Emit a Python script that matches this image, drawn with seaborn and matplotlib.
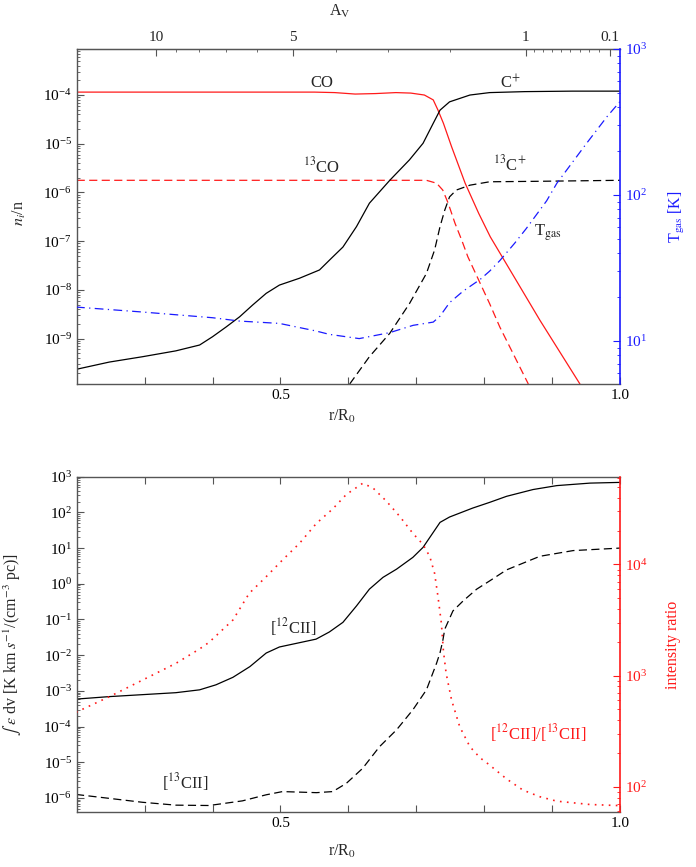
import numpy as np
import pandas as pd
import matplotlib
matplotlib.use("Agg")
import matplotlib.pyplot as plt
import matplotlib.ticker as mticker
import seaborn as sns

# ---------------- data (log10 values) ----------------
r_co = [0.20, 0.40, 0.55, 0.58, 0.61, 0.64, 0.67, 0.692, 0.712, 0.725, 0.732,
        0.740, 0.752, 0.772, 0.792, 0.809, 0.85, 0.882, 0.941]
co_log = [-3.94, -3.94, -3.94, -3.95, -3.98, -3.97, -3.95, -3.96, -4.00, -4.10, -4.31,
          -4.58, -5.06, -5.81, -6.43, -6.91, -7.87, -8.62, -9.93]

r_13co = [0.20, 0.70, 0.715, 0.730, 0.739, 0.747, 0.757, 0.767, 0.776, 0.808, 0.823, 0.865]
co13_log = [-5.75, -5.75, -5.75, -5.81, -5.95, -6.22, -6.63, -6.98, -7.32, -8.28, -8.76, -9.93]

r_cp = [0.199, 0.248, 0.297, 0.346, 0.381, 0.400, 0.420, 0.440, 0.459, 0.479, 0.4985,
        0.528, 0.5575, 0.575, 0.592, 0.612, 0.631, 0.661, 0.690, 0.710, 0.725, 0.735,
        0.749, 0.779, 0.808, 0.86, 0.93, 1.0]
cp_log = [-9.63, -9.48, -9.37, -9.25, -9.13, -8.96, -8.76, -8.55, -8.31, -8.07, -7.90,
          -7.76, -7.59, -7.35, -7.12, -6.70, -6.22, -5.75, -5.33, -4.99, -4.58, -4.31,
          -4.14, -4.00, -3.95, -3.93, -3.92, -3.92]

r_13cp = [0.602, 0.631, 0.661, 0.690, 0.715, 0.727, 0.735, 0.742, 0.749, 0.759, 0.779,
          0.808, 0.882, 1.0]
cp13_log = [-9.93, -9.37, -8.89, -8.28, -7.66, -7.18, -6.70, -6.36, -6.09, -5.95, -5.85,
            -5.78, -5.77, -5.75]

r_t = [0.199, 0.297, 0.40, 0.44, 0.4985, 0.5525, 0.572, 0.616, 0.661, 0.6955, 0.725,
       0.735, 0.749, 0.769, 0.794, 0.808, 0.823, 0.845, 0.862, 0.892, 0.907, 0.951, 0.981, 1.0]
tgas_log = [1.232, 1.198, 1.159, 1.136, 1.120, 1.068, 1.045, 1.016, 1.057, 1.107, 1.129,
            1.170, 1.262, 1.341, 1.421, 1.478, 1.550, 1.670, 1.770, 1.960, 2.080, 2.355,
            2.537, 2.640]

r_c12 = [0.199, 0.248, 0.346, 0.381, 0.405, 0.430, 0.455, 0.479, 0.4985, 0.528, 0.5525,
         0.572, 0.592, 0.612, 0.631, 0.651, 0.671, 0.695, 0.710, 0.725, 0.735, 0.749,
         0.783, 0.808, 0.833, 0.872, 0.907, 0.956, 1.0]
c12_log = [-3.23, -3.16, -3.05, -2.97, -2.83, -2.62, -2.32, -1.94, -1.77, -1.65, -1.55,
           -1.35, -1.08, -0.62, -0.15, 0.18, 0.41, 0.74, 1.02, 1.44, 1.72, 1.87,
           2.12, 2.28, 2.45, 2.64, 2.75, 2.82, 2.84]

r_c13 = [0.199, 0.248, 0.297, 0.346, 0.395, 0.444, 0.479, 0.503, 0.553, 0.577, 0.597,
         0.621, 0.646, 0.671, 0.695, 0.715, 0.730, 0.735, 0.739, 0.742, 0.754, 0.769,
         0.789, 0.808, 0.833, 0.882, 0.931, 1.0]
c13_log = [-5.90, -6.01, -6.12, -6.20, -6.21, -6.08, -5.91, -5.82, -5.85, -5.82, -5.59,
           -5.17, -4.56, -4.09, -3.53, -2.97, -2.22, -1.93, -1.60, -1.27, -0.76, -0.48,
           -0.15, 0.08, 0.39, 0.77, 0.93, 1.00]

r_ratio = [0.199, 0.248, 0.297, 0.346, 0.381, 0.395, 0.430, 0.454, 0.479, 0.503, 0.528,
           0.553, 0.577, 0.597, 0.621, 0.636, 0.656, 0.676, 0.695, 0.710, 0.720, 0.727,
           0.732, 0.737, 0.740, 0.744, 0.752, 0.764, 0.779, 0.794, 0.807, 0.833, 0.857,
           0.882, 0.907, 0.956, 1.0]
ratio_log = [2.67, 2.81, 2.96, 3.11, 3.24, 3.30, 3.50, 3.74, 3.89, 4.04, 4.19,
             4.37, 4.50, 4.63, 4.73, 4.69, 4.57, 4.43, 4.28, 4.18, 4.07, 3.92,
             3.71, 3.47, 3.22, 3.02, 2.78, 2.54, 2.36, 2.26, 2.20, 2.07, 1.97,
             1.91, 1.87, 1.84, 1.83]

av_major = [10, 5, 1, 0.1]
av_major_labels = ["10", "5", "1", "0.1"]
av_minor = [9, 8, 7, 6, 4, 3, 2, 0.9, 0.8, 0.7, 0.6, 0.5, 0.4, 0.3, 0.2]
r_ticks = [0.3, 0.4, 0.5, 0.6, 0.7, 0.8, 0.9, 1.0]
r_tick_labels = ["", "", "0.5", "", "", "", "", "1.0"]

# ---------------- style ----------------
sns.set_style("ticks")
plt.rcParams['font.family'] = ['Liberation Serif', 'DejaVu Serif']
plt.rcParams['mathtext.fontset'] = 'stix'
plt.rcParams['axes.unicode_minus'] = True

RED = '#ff1a1a'
BLUE = '#1a1aff'
SPINE = '#555555'
FS = 11
LW = 0.9

fig = plt.figure(figsize=(6.96, 8.67), dpi=100)
ax1 = fig.add_axes([0.1102, 0.5571, 0.7806, 0.3864])
ax3 = fig.add_axes([0.1102, 0.0631, 0.7806, 0.3871])


def line(ax, x, ylog, color, ls, lw=LW):
    df = pd.DataFrame({"r": x, "v": 10.0 ** np.asarray(ylog)})
    sns.lineplot(data=df, x="r", y="v", ax=ax, color=color, linestyle=ls,
                 linewidth=lw, estimator=None, sort=True)


DASH = (0, (6.5, 3.5))
DASHDOT = (0, (7, 3.5, 1, 3.5))
DOT = (0, (1.0, 3.2))

# ---------------- top panel ----------------
ax1.set_yscale('log')
line(ax1, r_co, co_log, RED, '-')
line(ax1, r_13co, co13_log, RED, DASH)
line(ax1, r_cp, cp_log, 'black', '-')
line(ax1, r_13cp, cp13_log, 'black', DASH)
ax1.set_xlim(0.2, 1.0)
ax1.set_ylim(10 ** -9.93, 10 ** -3.055)

ax2 = ax1.twinx()
ax2.set_yscale('log')
line(ax2, r_t, tgas_log, BLUE, DASHDOT)
ax2.set_ylim(10 ** 0.705, 1000.0)
ax2.set_xlim(0.2, 1.0)

# ---------------- bottom panel ----------------
ax3.set_yscale('log')
line(ax3, r_c12, c12_log, 'black', '-')
line(ax3, r_c13, c13_log, 'black', DASH)
ax3.set_xlim(0.2, 1.0)
ax3.set_ylim(10 ** -6.40, 1000.0)

ax4 = ax3.twinx()
ax4.set_yscale('log')
line(ax4, r_ratio, ratio_log, RED, DOT, lw=1.2)
ax4.set_ylim(10 ** 1.77, 10 ** 4.79)
ax4.set_xlim(0.2, 1.0)

# ---------------- axes cosmetics ----------------
def log_axis(ax):
    ax.yaxis.set_major_locator(mticker.LogLocator(base=10, numticks=30))
    ax.yaxis.set_minor_locator(mticker.LogLocator(base=10, subs=np.arange(2, 10), numticks=100))
    ax.yaxis.set_major_formatter(mticker.LogFormatterMathtext())
    ax.yaxis.set_minor_formatter(mticker.NullFormatter())


for ax in (ax1, ax2, ax3, ax4):
    log_axis(ax)
    ax.set_xlabel("")
    ax.set_ylabel("")

for ax in (ax2, ax4):
    ax.xaxis.label.set_visible(False)
    ax.xaxis.offsetText.set_visible(False)

for ax in (ax1, ax3):
    ax.set_xticks(r_ticks)
    ax.set_xticklabels(r_tick_labels)
    ax.tick_params(axis='both', which='both', direction='in', labelsize=FS, colors='black')
    ax.tick_params(axis='both', which='major', length=5, width=0.8, color=SPINE)
    ax.tick_params(axis='both', which='minor', length=2.5, width=0.6, color=SPINE)
    ax.tick_params(axis='y', right=False, which='both')
    ax.spines['right'].set_visible(False)
    for s in ('left', 'bottom', 'top'):
        ax.spines[s].set_color(SPINE)
        ax.spines[s].set_linewidth(1.0)

ax3.tick_params(axis='x', top=True, which='major')

for ax, col in ((ax2, BLUE), (ax4, RED)):
    for s in ('left', 'top', 'bottom'):
        ax.spines[s].set_visible(False)
    ax.spines['right'].set_color(col)
    ax.spines['right'].set_linewidth(1.2)
    ax.tick_params(axis='y', which='both', direction='in', colors=col, labelsize=FS)
    ax.tick_params(axis='y', which='major', length=5, width=0.8)
    ax.tick_params(axis='y', which='minor', length=2.5, width=0.6)
    ax.tick_params(axis='x', which='both', bottom=False, top=False, labelbottom=False)

# A_V secondary axis on top of panel 1
A0 = 12.88


def r2av(r):
    r = np.clip(np.asarray(r, dtype=float), 1e-3, None)
    return A0 * (1.0 / np.sqrt(r) - 1.0)


def av2r(av):
    av = np.clip(np.asarray(av, dtype=float), -0.9 * A0, None)
    return 1.0 / (1.0 + av / A0) ** 2


sec = ax1.secondary_xaxis('top', functions=(r2av, av2r))
sec.set_xticks(av_major)
sec.set_xticklabels(av_major_labels)
sec.xaxis.set_minor_locator(mticker.FixedLocator(av_minor))
sec.xaxis.set_minor_formatter(mticker.NullFormatter())
sec.tick_params(which='both', direction='in', labelsize=FS, color=SPINE)
sec.tick_params(which='major', length=5, width=0.8)
sec.tick_params(which='minor', length=2.5, width=0.6)
sec.spines['top'].set_color(SPINE)
fig.text(0.488, 1 - 11 / 867, r"A$_{\rm V}$", ha='center', va='center', fontsize=FS + 0.5)

# axis labels
ax1.set_ylabel(r"$n_i$/n", fontsize=FS + 0.5)
ax1.yaxis.set_label_coords(-0.089, 0.51)
ax1.set_xlabel(r"r/R$_0$", fontsize=FS + 0.5)
ax1.xaxis.set_label_coords(0.488, -0.07)
ax2.set_ylabel(r"T$_{\rm gas}$ [K]", fontsize=FS + 0.5, color=BLUE)
ax2.yaxis.set_label_coords(1.087, 0.50)

ax3.set_ylabel(r"$\int\ \epsilon$ dv [K km $s^{-1}$/(cm$^{-3}$ pc)]", fontsize=FS + 0.5)
ax3.yaxis.set_label_coords(-0.097, 0.50)
ax3.set_xlabel(r"r/R$_0$", fontsize=FS + 0.5)
ax3.xaxis.set_label_coords(0.488, -0.09)
ax4.set_ylabel("intensity ratio", fontsize=FS + 0.5, color=RED)
ax4.yaxis.set_label_coords(1.083, 0.50)

# curve labels
ax1.text(0.451, 0.899, "CO", transform=ax1.transAxes, ha='center', va='center', fontsize=FS + 1)
ax1.text(0.7975, 0.899, r"C$^{+}$", transform=ax1.transAxes, ha='center', va='center', fontsize=FS + 1)
ax1.text(0.451, 0.649, r"$^{13}$CO", transform=ax1.transAxes, ha='center', va='center', fontsize=FS + 1)
ax1.text(0.7975, 0.654, r"$^{13}$C$^{+}$", transform=ax1.transAxes, ha='center', va='center', fontsize=FS + 1)
ax1.text(0.8675, 0.451, r"T$_{\rm gas}$", transform=ax1.transAxes, ha='center', va='center', fontsize=FS + 1)

ax3.text(0.398, 0.552, r"[$^{12}$CII]", transform=ax3.transAxes, ha='center', va='center', fontsize=FS + 1)
ax3.text(0.1993, 0.090, r"[$^{13}$CII]", transform=ax3.transAxes, ha='center', va='center', fontsize=FS + 1)
ax3.text(0.849, 0.236, r"[$^{12}$CII]/[$^{13}$CII]", transform=ax3.transAxes, ha='center',
         va='center', fontsize=FS + 1, color=RED)

fig.savefig("out.png", dpi=100)
